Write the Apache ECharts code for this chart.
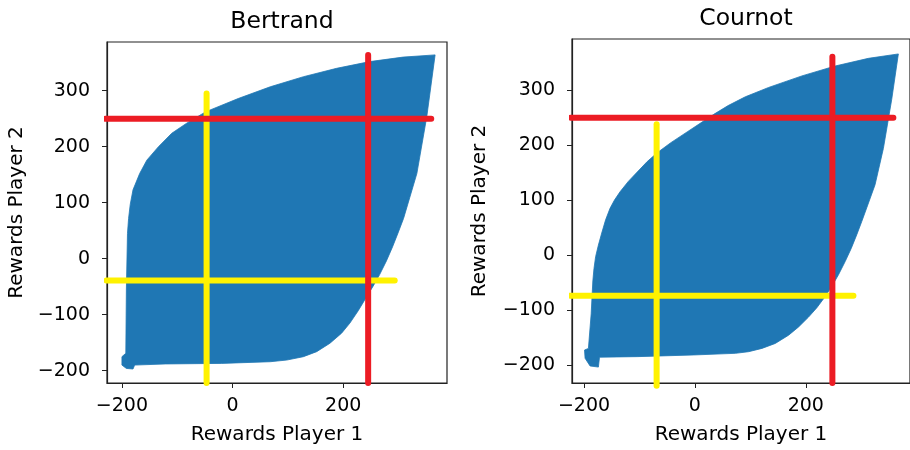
<!DOCTYPE html>
<html>
<head>
<meta charset="utf-8">
<script src="https://cdn.jsdelivr.net/npm/echarts@6/dist/echarts.min.js"></script>
<style>
  html, body { margin: 0; padding: 0; background: #fff; }
  #chart { width: 910px; height: 450px; }
</style>
</head>
<body>
<div id="chart"></div>
<script>
// Panel titles and axis names
const PANEL_TITLES = ['Bertrand', 'Cournot'];
const X_NAME = 'Rewards Player 1';
const Y_NAME = 'Rewards Player 2';

// Tick values
const X_TICKS = [-200, 0, 200];
const Y_TICKS = [-200, -100, 0, 100, 200, 300];

// Axis limits [min, max] per panel
const BERTRAND_X_LIM = [-227, 387.5];
const BERTRAND_Y_LIM = [-222, 387];
const COURNOT_X_LIM = [-221.6, 388];
const COURNOT_Y_LIM = [-233, 393.2];

// Outline of the set of achievable reward pairs (player 1, player 2)
const BERTRAND_REGION = [
  [366, 364], [308, 360], [248, 352], [188, 340], [128, 325], [68, 307],
  [10, 286], [-47, 263], [-56, 258], [-83, 242], [-110, 224], [-134, 200],
  [-155, 176], [-168, 152], [-180, 123], [-185, 97], [-188, 72],
  [-190, 45], [-192, -56], [-193, -169],
  [-200, -175], [-200, -190], [-192, -196], [-180, -197], [-177, -190],
  [-122, -188], [-20, -187], [68, -184], [98, -181], [128, -175],
  [152, -166], [176, -151], [197, -133], [212, -115], [227, -93],
  [241, -70], [254, -49], [266, -28], [278, -4], [289, 21], [299, 46],
  [309, 72], [333, 152], [351, 254]
];
const COURNOT_REGION = [
  [367, 366], [313, 358], [253, 344], [193, 326], [133, 305], [91, 288],
  [60, 272], [34, 256], [-14, 224], [-44, 204], [-68, 186], [-86, 170],
  [-104, 151], [-120, 134], [-135, 115], [-145, 100], [-153, 85],
  [-161, 64], [-168, 40], [-174, 18], [-179, -3], [-182, -25], [-184, -47],
  [-187, -107], [-192, -170],
  [-199, -173], [-198, -188], [-189, -202], [-174, -204], [-172, -186],
  [-104, -185], [-3, -182], [73, -179], [97, -176], [121, -170],
  [145, -161], [169, -146], [187, -131], [205, -113], [220, -96],
  [234, -77], [247, -57], [259, -36], [271, -12], [282, 12], [292, 37],
  [301, 61], [310, 86], [325, 128], [340, 194], [355, 283]
];

// Reference lines (start and end points)
const BERTRAND_YELLOW_V = [[-47, 295], [-47, -222]];
const BERTRAND_YELLOW_H = [[-228, -39], [293, -39]];
const BERTRAND_RED_H = [[-230, 250], [359, 250]];
const BERTRAND_RED_V = [[245, 364], [245, -222]];
const COURNOT_YELLOW_V = [[-69, 238], [-69, -238]];
const COURNOT_YELLOW_H = [[-225, -74], [286, -74]];
const COURNOT_RED_H = [[-224, 250], [358, 250]];
const COURNOT_RED_V = [[248, 361], [248, -233]];

const BLUE = '#1f77b4';
const RED = '#ec1c24';
const YELLOW = '#fff200';
const FONT = 'DejaVu Sans';

const chart = echarts.init(document.getElementById('chart'), null, { renderer: 'canvas' });

const minusFmt = v => String(v).replace('-', '\u2212');

function xAxisFor(gridIndex, lim, gap) {
  return {
    type: 'value', gridIndex, min: lim[0], max: lim[1],
    name: X_NAME, nameLocation: 'middle', nameGap: gap,
    nameTextStyle: { fontFamily: FONT, fontSize: 20, color: '#000' },
    axisLine: { show: true, onZero: false, lineStyle: { color: '#222', width: 1.2 } },
    axisTick: { show: true, customValues: X_TICKS, length: 5, lineStyle: { color: '#222', width: 1 } },
    axisLabel: { customValues: X_TICKS, formatter: minusFmt, margin: 14,
      fontFamily: FONT, fontSize: 19, color: '#000' },
    splitLine: { show: false }
  };
}
function yAxisFor(gridIndex, lim, gap) {
  return {
    type: 'value', gridIndex, min: lim[0], max: lim[1],
    name: Y_NAME, nameLocation: 'middle', nameGap: gap, nameRotate: 90,
    nameTextStyle: { fontFamily: FONT, fontSize: 20, color: '#000' },
    axisLine: { show: true, onZero: false, lineStyle: { color: '#222', width: 1.2 } },
    axisTick: { show: true, customValues: Y_TICKS, length: 5, lineStyle: { color: '#222', width: 1 } },
    axisLabel: { customValues: Y_TICKS, formatter: minusFmt, margin: 17,
      fontFamily: FONT, fontSize: 19, color: '#000' },
    splitLine: { show: false }
  };
}

function regionSeries(idx, outline) {
  return {
    type: 'custom', xAxisIndex: idx, yAxisIndex: idx, silent: true,
    data: [0], z: 2,
    renderItem: (params, api) => ({
      type: 'polygon',
      shape: { points: outline.map(p => api.coord(p)) },
      style: { fill: BLUE, stroke: BLUE, lineWidth: 0.8 }
    })
  };
}
function lineSeries(idx, pts, color, z) {
  return {
    type: 'line', xAxisIndex: idx, yAxisIndex: idx, data: pts,
    symbol: 'none', clip: false, silent: true, z,
    lineStyle: { color, width: 6, cap: 'round' }
  };
}

chart.setOption({
  animation: false,
  backgroundColor: '#fff',
  title: [
    { text: PANEL_TITLES[0], left: 277, top: 5, textAlign: 'center',
      textStyle: { fontFamily: FONT, fontSize: 23.5, fontWeight: 'normal', color: '#000' } },
    { text: PANEL_TITLES[1], left: 741, top: 2, textAlign: 'center',
      textStyle: { fontFamily: FONT, fontSize: 23.5, fontWeight: 'normal', color: '#000' } }
  ],
  grid: [
    { left: 107, top: 42, width: 340, height: 341, show: true,
      borderColor: '#222', borderWidth: 1.2, backgroundColor: 'transparent' },
    { left: 572, top: 39, width: 338, height: 348, show: true,
      borderColor: '#222', borderWidth: 1.2, backgroundColor: 'transparent' }
  ],
  xAxis: [xAxisFor(0, BERTRAND_X_LIM, 42), xAxisFor(1, COURNOT_X_LIM, 42)],
  yAxis: [yAxisFor(0, BERTRAND_Y_LIM, 80), yAxisFor(1, COURNOT_Y_LIM, 82)],
  series: [
    regionSeries(0, BERTRAND_REGION),
    lineSeries(0, BERTRAND_YELLOW_V, YELLOW, 3),
    lineSeries(0, BERTRAND_YELLOW_H, YELLOW, 3),
    lineSeries(0, BERTRAND_RED_H, RED, 4),
    lineSeries(0, BERTRAND_RED_V, RED, 4),
    regionSeries(1, COURNOT_REGION),
    lineSeries(1, COURNOT_YELLOW_V, YELLOW, 3),
    lineSeries(1, COURNOT_YELLOW_H, YELLOW, 3),
    lineSeries(1, COURNOT_RED_H, RED, 4),
    lineSeries(1, COURNOT_RED_V, RED, 4)
  ]
});
</script>
</body>
</html>
